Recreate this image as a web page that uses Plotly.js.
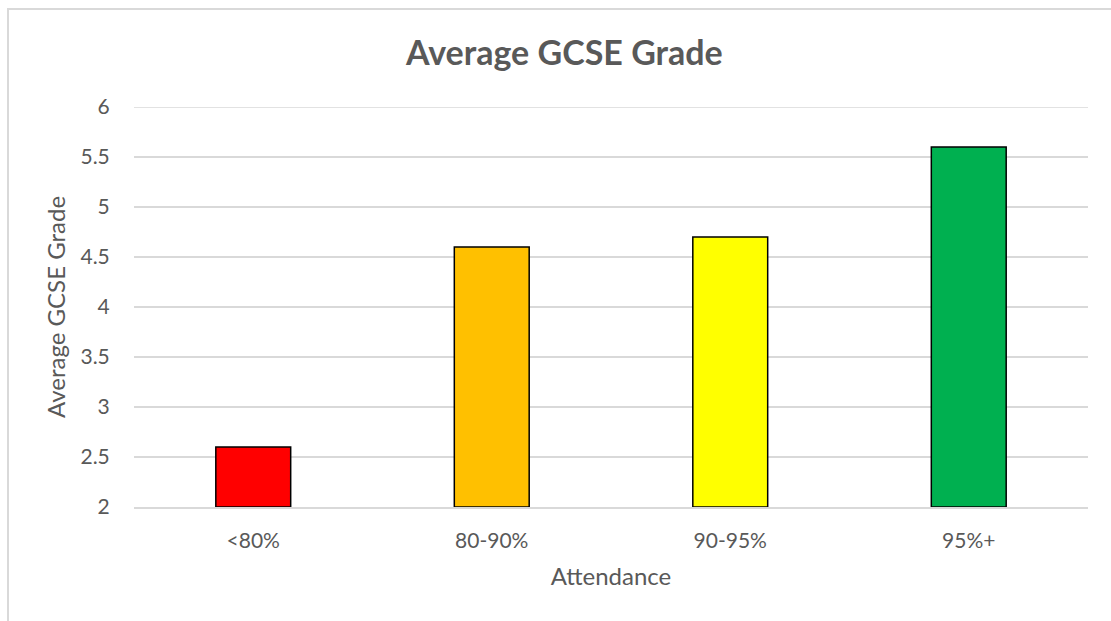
<!DOCTYPE html>
<html><head><meta charset="utf-8">
<script src="https://cdn.plot.ly/plotly-3.0.1.min.js"></script>
<style>
html,body{margin:0;padding:0;background:#fff;}
#wrap{position:relative;width:1111px;height:621px;overflow:hidden;}
#frame{position:absolute;left:7px;top:8px;width:1120px;height:640px;border:2px solid #d9d9d9;box-sizing:border-box;pointer-events:none;}
#chart{position:absolute;left:0;top:0;width:1111px;height:621px;}
</style></head>
<body><div id="wrap"><div id="chart"></div><div id="frame"></div></div>
<script>
const categories = ["<80%", "80-90%", "90-95%", "95%+"];
const grades = [2.6, 4.6, 4.7, 5.6];
const barColors = ["#ff0000", "#ffc000", "#ffff00", "#00b050"];
const yTicks = [2, 2.5, 3, 3.5, 4, 4.5, 5, 5.5, 6];
const yMax = 6;

const font = "Lato, 'Open Sans', sans-serif";
const trace = {
  type: "bar", x: categories, y: grades.map(v => v - 2), base: 2,
  marker: {color: barColors, line: {color: "#000000", width: 1.5}},
  hoverinfo: "skip"
};
const layout = {
  width: 1111, height: 621,
  margin: {l: 134, r: 23, t: 107, b: 114},
  paper_bgcolor: "rgba(0,0,0,0)", plot_bgcolor: "#ffffff",
  showlegend: false, bargap: 0.686,
  font: {family: font, color: "#595959"},
  title: {text: "<b>Average GCSE Grade</b>", font: {size: 34, color: "#595959", family: font},
          x: 0.508, xanchor: "center", y: 0.915, yanchor: "middle", xref: "container", yref: "container"},
  xaxis: {type: "category", tickfont: {size: 21, color: "#595959"}, ticks: "outside", ticklen: 14,
          tickcolor: "rgba(0,0,0,0)", showline: true,
          linecolor: "#d9d9d9", linewidth: 1.5, showgrid: false,
          title: {text: "Attendance", font: {size: 24, color: "#595959"}, standoff: 17}},
  yaxis: {range: [2, yMax], tickvals: yTicks, ticktext: yTicks.map(String), tickfont: {size: 21, color: "#595959"},
          showgrid: true, gridcolor: "#d9d9d9", gridwidth: 1.3, zeroline: false,
          ticks: "outside", ticklen: 19, tickcolor: "rgba(0,0,0,0)",
          title: {text: "Average GCSE Grade", font: {size: 24, color: "#595959"}, standoff: 8}},
  shapes: [{type: "line", xref: "paper", yref: "y", x0: 0, x1: 1, y0: yMax, y1: yMax,
            line: {color: "#d9d9d9", width: 1.3}, layer: "below"}]
};
Plotly.newPlot("chart", [trace], layout, {displayModeBar: false, staticPlot: true});
</script></body></html>
